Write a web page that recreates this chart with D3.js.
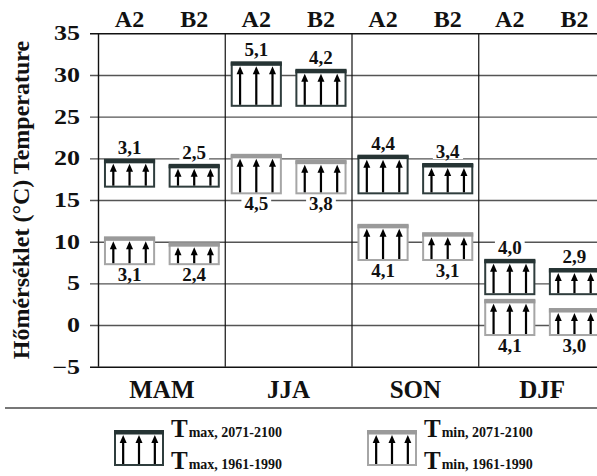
<!DOCTYPE html>
<html>
<head>
<meta charset="utf-8">
<script src="https://cdn.jsdelivr.net/npm/d3@7"></script>
<style>
  body { margin: 0; background: #fff; }
  svg text { font-family: "Liberation Serif", "Times New Roman", serif; font-weight: bold; fill: #111; }
</style>
</head>
<body>
<svg id="chart" width="597" height="476"></svg>
<script>
// seasons and scenarios
const seasons = ["MAM", "JJA", "SON", "DJF"]
const scenarios = ["A2", "B2"]
const yTicks = [-5, 0, 5, 10, 15, 20, 25, 30, 35]

// 1961-1990 means (°C) and projected change for 2071-2100
const tmaxPast = [16.6, 26.3, 15.8, 3.7]
const tmaxChangeA2 = [3.1, 5.1, 4.4, 4.0]
const tmaxChangeB2 = [2.5, 4.2, 3.4, 2.9]
const tminPast = [7.3, 15.8, 7.8, -1.2]
const tminChangeA2 = [3.1, 4.5, 4.1, 4.1]
const tminChangeB2 = [2.4, 3.8, 3.1, 3.0]

const legendSubs = [["max, 2071-2100", "max, 1961-1990"], ["min, 2071-2100", "min, 1961-1990"]]

const colors = {
    max: { stroke: "#2f3d3d", bar: "#263434" },
    min: { stroke: "#a6a6a6", bar: "#9a9a9a" }
}

let svg = d3.select("#chart")

let y = d3.scaleLinear().domain([-5, 35]).range([366.7, 33.3])
let x = d3.scaleBand().domain(seasons).range([98.5, 605.5])
let xs = d3.scaleBand().domain(scenarios).range([0, x.bandwidth()]).paddingInner(0.24).paddingOuter(0.1)

let fmt = v => v.toFixed(1).replace(".", ",")

// build rows
let rows = []
seasons.forEach((s, i) => {
    rows.push({ season: s, scen: "A2", type: "max", past: tmaxPast[i], change: tmaxChangeA2[i] })
    rows.push({ season: s, scen: "B2", type: "max", past: tmaxPast[i], change: tmaxChangeB2[i] })
    rows.push({ season: s, scen: "A2", type: "min", past: tminPast[i], change: tminChangeA2[i] })
    rows.push({ season: s, scen: "B2", type: "min", past: tminPast[i], change: tminChangeB2[i] })
})

// grid lines + tick labels
let yAxis = svg.append("g")
    .attr("transform", "translate(90,0)")
    .call(d3.axisLeft(y).tickValues(yTicks).tickSize(-520).tickPadding(10))
yAxis.select(".domain").remove()
yAxis.selectAll(".tick line")
    .attr("stroke", d => (d == 35 || d == -5) ? "#111" : "#555")
    .attr("stroke-width", 1.4)
yAxis.selectAll(".tick text")
    .attr("x", null)
    .attr("transform", "translate(-10,0) scale(1.3,1)")
    .style("font-size", "20px")
    .style("font-family", "'Liberation Serif', serif")
    .style("font-weight", "bold")
    .attr("fill", "#111")

// axis line and season dividers
svg.append("line")
    .attr("x1", 98.5).attr("x2", 98.5)
    .attr("y1", y(35)).attr("y2", y(-5))
    .attr("stroke", "#111").attr("stroke-width", 1.4)

svg.selectAll(".divider")
    .data(seasons.slice(1))
    .enter().append("line")
    .attr("class", "divider")
    .attr("x1", d => x(d)).attr("x2", d => x(d))
    .attr("y1", y(35)).attr("y2", y(-5))
    .attr("stroke", "#111").attr("stroke-width", 1.2)

// scenario headers
seasons.forEach(s => {
    svg.selectAll(null)
        .data(scenarios)
        .enter().append("text")
        .attr("x", d => x(s) + xs(d) + xs.bandwidth() / 2)
        .attr("y", 27)
        .attr("text-anchor", "middle")
        .style("font-size", "24px")
        .text(d => d)
})

// season labels
svg.selectAll(".season")
    .data(seasons)
    .enter().append("text")
    .attr("class", "season")
    .attr("x", d => x(d) + x.bandwidth() / 2)
    .attr("y", 398)
    .attr("text-anchor", "middle")
    .style("font-size", "25px")
    .text(d => d)

// y title
svg.append("text")
    .attr("transform", "translate(28.5,200) rotate(-90)")
    .attr("text-anchor", "middle")
    .style("font-size", "24px")
    .text("Hőmérséklet (°C) Temperature")

let drawArrows = (g, cx, bw, yTop, yBottom) => {
    let off = bw * 0.33;
    [-off, 0, off].forEach(o => {
        let ax = cx + o
        g.append("rect")
            .attr("x", ax - 1.1).attr("width", 2.2)
            .attr("y", yTop + 6).attr("height", yBottom - yTop - 6)
            .attr("fill", "#000")
        g.append("path")
            .attr("d", `M${ax - 3.5},${yTop + 8} L${ax},${yTop} L${ax + 3.5},${yTop + 8} Z`)
            .attr("fill", "#000")
    })
}

let drawBox = (g, x0, bw, yTop, yBottom, c) => {
    g.append("rect")
        .attr("x", x0).attr("y", yTop)
        .attr("width", bw).attr("height", yBottom - yTop)
        .attr("fill", "#fff")
        .attr("stroke", c.stroke).attr("stroke-width", 2)
    g.append("rect")
        .attr("x", x0 - 1).attr("y", yTop - 2)
        .attr("width", bw + 2).attr("height", 4.5)
        .attr("fill", c.bar)
    drawArrows(g, x0 + bw / 2, bw, yTop + 3, yBottom - 1)
}

let boxes = svg.append("g")
rows.forEach(r => {
    let x0 = x(r.season) + xs(r.scen)
    let bw = xs.bandwidth()
    let future = r.past + r.change
    let g = boxes.append("g")
    drawBox(g, x0, bw, y(future), y(r.past), colors[r.type])

    let ty = r.type == "max" ? y(future) - 7 : y(r.past) + 17
    let t = g.append("text")
        .attr("x", x0 + bw / 2)
        .attr("y", ty)
        .attr("text-anchor", "middle")
        .style("font-size", "19px")
        .text(fmt(r.change))
    let bb = t.node().getBBox()
    g.insert("rect", "text")
        .attr("x", bb.x - 3).attr("y", ty - 13)
        .attr("width", bb.width + 6).attr("height", 14)
        .attr("fill", "#fff")
})

// separator line
svg.append("line")
    .attr("x1", 5).attr("x2", 597)
    .attr("y1", 408).attr("y2", 408)
    .attr("stroke", "#777").attr("stroke-width", 2)

// legend
let legendX = [115, 368]
;["max", "min"].forEach((k, i) => {
    let g = svg.append("g")
    drawBox(g, legendX[i], 48, 432, 465, colors[k])
    legendSubs[i].forEach((sub, j) => {
        let t = g.append("text")
            .attr("x", legendX[i] + 56)
            .attr("y", 437 + j * 31.5)
        t.append("tspan").style("font-size", "25px").text("T")
        t.append("tspan").style("font-size", "14px").attr("dx", 1).text(sub)
    })
})
</script>
</body>
</html>
